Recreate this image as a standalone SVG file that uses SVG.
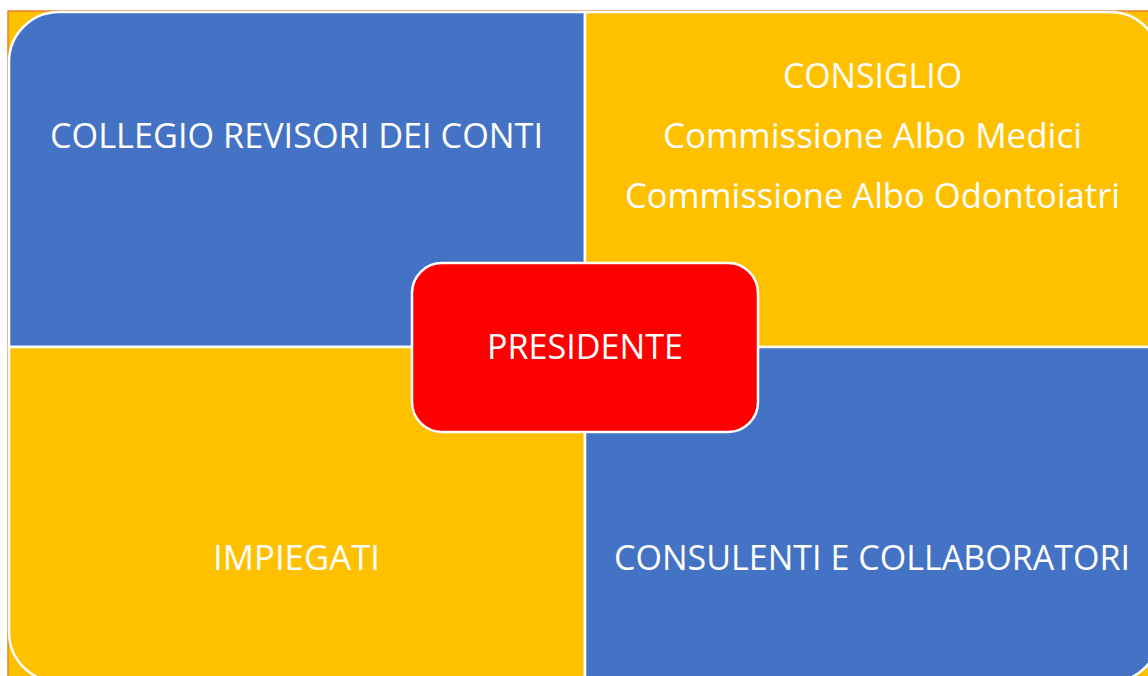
<svg xmlns="http://www.w3.org/2000/svg" width="1148" height="676" viewBox="0 0 1148 676">
  <style>
    .q { stroke: #FFFFFF; stroke-width: 2.5; }
    .blue { fill: #4472C4; }
    .yellow { fill: #FFC000; }
    .t { font-family: "Open Sans", "Noto Sans", "Liberation Sans", sans-serif; font-size: 35px; fill: #FFFFFF; text-anchor: middle; }
  </style>
  <rect x="0" y="0" width="1148" height="676" fill="#FFFFFF"/>
  <rect id="frame" x="8" y="11" width="1170" height="690" fill="#FFC000" stroke="#ED7D31" stroke-width="1.5"/>
  <g id="collegio">
    <path class="q blue" d="M9,347 V62 A50,50 0 0 1 59,12 H585 V347 Z"/>
    <text class="t" x="296.5" y="148" textLength="493" lengthAdjust="spacingAndGlyphs">COLLEGIO REVISORI DEI CONTI</text>
  </g>
  <g id="consiglio">
    <path class="q yellow" d="M585,12 H1110 A50,50 0 0 1 1160,62 V347 H585 Z"/>
    <text class="t" x="872.5" y="88" textLength="179" lengthAdjust="spacingAndGlyphs">CONSIGLIO</text>
    <text class="t" x="872.5" y="148" textLength="419" lengthAdjust="spacingAndGlyphs">Commissione Albo Medici</text>
    <text class="t" x="872.5" y="208" textLength="495" lengthAdjust="spacingAndGlyphs">Commissione Albo Odontoiatri</text>
  </g>
  <g id="impiegati">
    <path class="q yellow" d="M9,347 H585 V682 H59 A50,50 0 0 1 9,632 Z"/>
    <text class="t" x="296.5" y="570" textLength="167" lengthAdjust="spacingAndGlyphs">IMPIEGATI</text>
  </g>
  <g id="consulenti">
    <path class="q blue" d="M585,347 H1160 V632 A50,50 0 0 1 1110,682 H585 Z"/>
    <text class="t" x="872" y="570" textLength="516" lengthAdjust="spacingAndGlyphs">CONSULENTI E COLLABORATORI</text>
  </g>
  <g id="connectors"></g>
  <g id="presidente">
    <rect x="412" y="263" width="346" height="169" rx="30" ry="30" fill="#FF0000" stroke="#FFFFFF" stroke-width="2.5"/>
    <text class="t" x="585" y="359" textLength="196" lengthAdjust="spacingAndGlyphs">PRESIDENTE</text>
  </g>
</svg>
